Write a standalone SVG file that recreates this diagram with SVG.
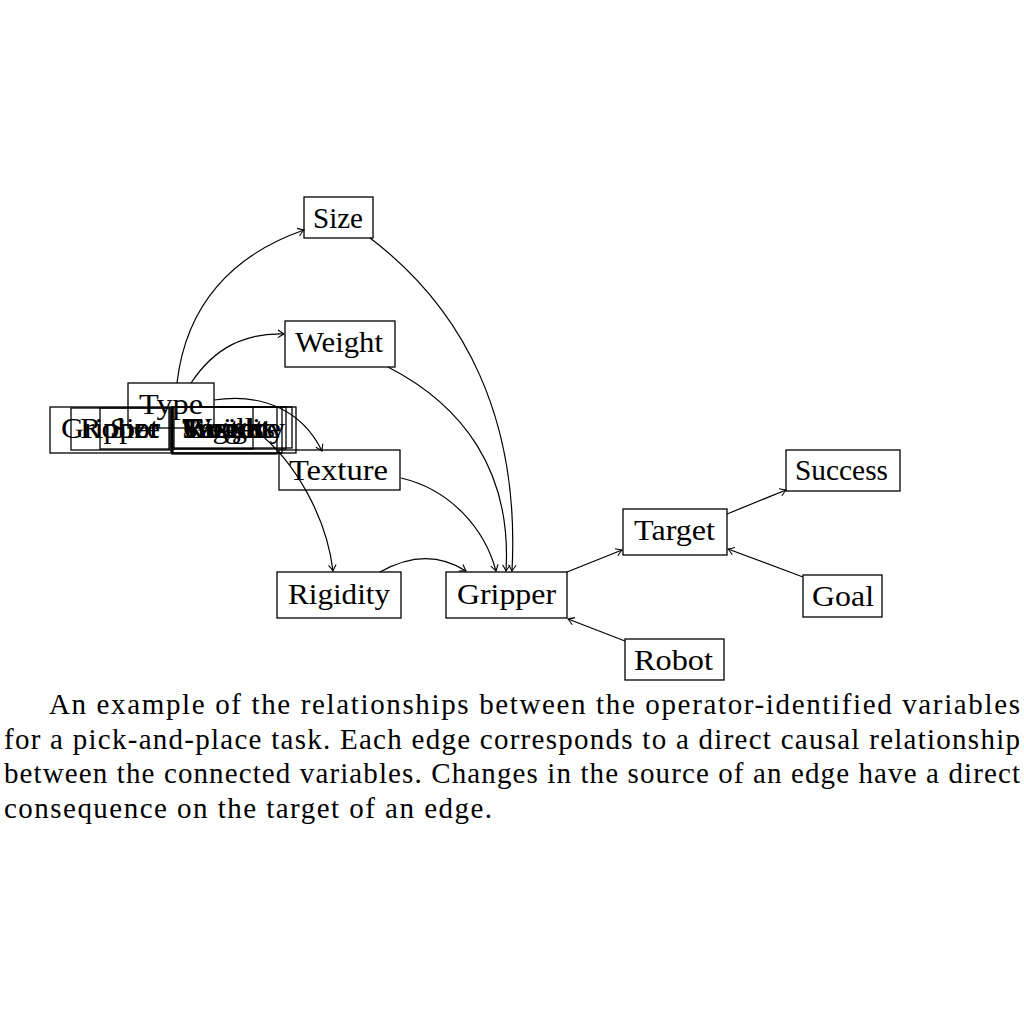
<svg xmlns="http://www.w3.org/2000/svg" width="1024" height="1024" viewBox="0 0 1024 1024">
<style>
.box{fill:none;stroke:#000;stroke-width:1.3}
.lbl{font-family:"Liberation Serif","DejaVu Serif",serif;font-size:30px;fill:#000}
.cap{font-family:"Liberation Serif","DejaVu Serif",serif;font-size:29px;fill:#000}
.edge{fill:none;stroke:#000;stroke-width:1.2;marker-end:url(#arr)}
</style>
<defs>
<marker id="arr" markerUnits="userSpaceOnUse" markerWidth="12" markerHeight="12" viewBox="-8 -6 10 12" refX="0" refY="0" orient="auto">
<path d="M-6,-3.8 Q-2.2,-1.2 0,0 Q-2.2,1.2 -6,3.8" fill="none" stroke="#000" stroke-width="1.1"/>
</marker>
</defs>
<rect width="1024" height="1024" fill="#fff"/>

<g id="cluster">
<rect class="box" x="50" y="407" width="121" height="46"/>
<text class="lbl" x="61" y="438" textLength="99" lengthAdjust="spacingAndGlyphs">Gripper</text>
<rect class="box" x="71" y="408" width="99" height="42"/>
<text class="lbl" x="80" y="438" textLength="79" lengthAdjust="spacingAndGlyphs">Robot</text>
<rect class="box" x="100" y="408" width="69" height="41"/>
<text class="lbl" x="110" y="438" textLength="50" lengthAdjust="spacingAndGlyphs">Size</text>
<rect class="box" x="172" y="407" width="110" height="46"/>
<text class="lbl" x="183" y="438" textLength="88" lengthAdjust="spacingAndGlyphs">Weight</text>
<rect class="box" x="172" y="407" width="120" height="41"/>
<text class="lbl" x="182" y="438" textLength="99" lengthAdjust="spacingAndGlyphs">Texture</text>
<rect class="box" x="173" y="407" width="123" height="46"/>
<text class="lbl" x="183" y="438" textLength="102" lengthAdjust="spacingAndGlyphs">Rigidity</text>
<rect class="box" x="172" y="407" width="114" height="42"/>
<text class="lbl" x="182" y="438" textLength="93" lengthAdjust="spacingAndGlyphs">Success</text>
<rect class="box" x="172" y="407" width="105" height="47"/>
<text class="lbl" x="183" y="438" textLength="81" lengthAdjust="spacingAndGlyphs">Target</text>
<rect class="box" x="174" y="407" width="79" height="42"/>
<text class="lbl" x="183" y="438" textLength="62" lengthAdjust="spacingAndGlyphs">Goal</text>
</g>
<g id="type">
<rect class="box" x="128" y="383" width="86" height="45"/>
<text class="lbl" x="139" y="414" textLength="64" lengthAdjust="spacingAndGlyphs">Type</text>
</g>

<g id="size"><rect class="box" x="304" y="197" width="69" height="41"/><text class="lbl" x="313" y="228" textLength="50" lengthAdjust="spacingAndGlyphs">Size</text></g>
<g id="weight"><rect class="box" x="285" y="321" width="110" height="46"/><text class="lbl" x="295" y="352" textLength="88" lengthAdjust="spacingAndGlyphs">Weight</text></g>
<g id="texture"><rect class="box" x="279" y="450" width="121" height="40"/><text class="lbl" x="289" y="480" textLength="99" lengthAdjust="spacingAndGlyphs">Texture</text></g>
<g id="rigidity"><rect class="box" x="277" y="572" width="124" height="46"/><text class="lbl" x="288" y="604" textLength="102" lengthAdjust="spacingAndGlyphs">Rigidity</text></g>
<g id="gripper"><rect class="box" x="446" y="572" width="121" height="46"/><text class="lbl" x="457" y="604" textLength="99" lengthAdjust="spacingAndGlyphs">Gripper</text></g>
<g id="target"><rect class="box" x="623" y="509" width="104" height="46"/><text class="lbl" x="634" y="540" textLength="81" lengthAdjust="spacingAndGlyphs">Target</text></g>
<g id="success"><rect class="box" x="786" y="450" width="114" height="41"/><text class="lbl" x="795" y="480" textLength="93" lengthAdjust="spacingAndGlyphs">Success</text></g>
<g id="goal"><rect class="box" x="803" y="575" width="79" height="42"/><text class="lbl" x="812" y="606" textLength="62" lengthAdjust="spacingAndGlyphs">Goal</text></g>
<g id="robot"><rect class="box" x="625" y="639" width="99" height="41"/><text class="lbl" x="634" y="670" textLength="79" lengthAdjust="spacingAndGlyphs">Robot</text></g>

<g id="connectors">
<path class="edge" d="M177,383 C186,305 232,255 304,230"/>
<path class="edge" d="M191,383 C215,347 245,333 284,334"/>
<path class="edge" d="M214,400 C262,393 302,410 322,451"/>
<path class="edge" d="M255,430 C297,462 327,520 333,571"/>
<path class="edge" d="M370,238 C465,310 520,420 512,571"/>
<path class="edge" d="M388,367 C462,405 512,470 506,571"/>
<path class="edge" d="M401,478 C452,490 485,530 496,571"/>
<path class="edge" d="M380,572 C410,555 438,553 466,571"/>
<path class="edge" d="M567,572 L622,550"/>
<path class="edge" d="M727,514 L786,490"/>
<path class="edge" d="M803,577 L728,549"/>
<path class="edge" d="M625,641 L568,619"/>
</g>

<g id="caption">
<text class="cap" x="49" y="714" textLength="971" lengthAdjust="spacing">An example of the relationships between the operator-identified variables</text>
<text class="cap" x="4" y="749" textLength="1016" lengthAdjust="spacing">for a pick-and-place task. Each edge corresponds to a direct causal relationship</text>
<text class="cap" x="4" y="783" textLength="1016" lengthAdjust="spacing">between the connected variables. Changes in the source of an edge have a direct</text>
<text class="cap" x="4" y="818" textLength="488" lengthAdjust="spacing">consequence on the target of an edge.</text>
</g>
</svg>
